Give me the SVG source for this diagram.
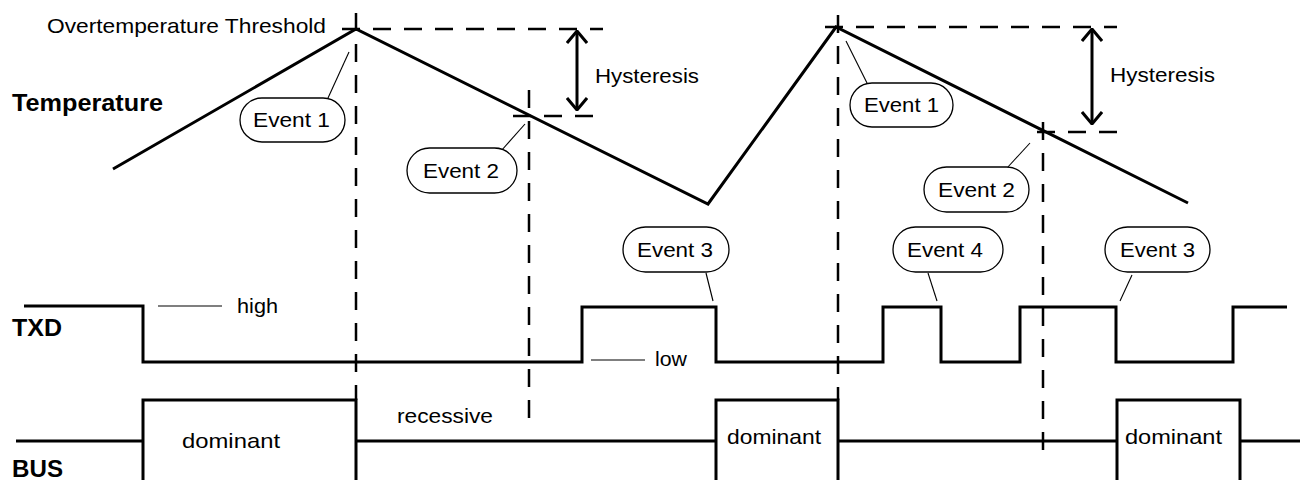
<svg xmlns="http://www.w3.org/2000/svg" width="1302" height="480" viewBox="0 0 1302 480">
<defs>
<style>
.sig{fill:none;stroke:#000;stroke-width:3;stroke-linejoin:miter;stroke-linecap:butt}
.dash{fill:none;stroke:#000;stroke-width:2.5;stroke-dasharray:18 13}
.lead{fill:none;stroke:#000;stroke-width:1.1}
.pill{fill:#fff;stroke:#000;stroke-width:1.3}
.t{font-family:"Liberation Sans",Arial,sans-serif;font-size:21px;fill:#000}
.b{font-family:"Liberation Sans",Arial,sans-serif;font-size:23px;font-weight:bold;fill:#000}
.arr{fill:none;stroke:#000;stroke-width:3}
</style>
<marker id="chev" viewBox="0 0 14 22" refX="13" refY="11" markerWidth="14" markerHeight="22" markerUnits="userSpaceOnUse" orient="auto-start-reverse">
<path d="M1,1 L13,11 L1,21" fill="none" stroke="#000" stroke-width="3"/>
</marker>
</defs>
<rect width="1302" height="480" fill="#fff"/>

<g id="guides">
<line class="dash" x1="342" y1="29" x2="603" y2="29"/>
<line class="dash" x1="513" y1="116" x2="603" y2="116"/>
<line class="dash" x1="825" y1="27" x2="1117" y2="27"/>
<line class="dash" x1="1037" y1="132" x2="1122" y2="132"/>
<line class="dash" x1="356" y1="13" x2="356" y2="400"/>
<line class="dash" x1="529" y1="90" x2="529" y2="426"/>
<line class="dash" x1="838" y1="15" x2="838" y2="400"/>
<line class="dash" x1="1043" y1="122" x2="1043" y2="459"/>
</g>

<g id="temperature-curve">
<polyline class="sig" points="113,169 356,29 708,204 836,27 1188,203"/>
</g>

<g id="txd-signal">
<polyline class="sig" points="24,306 143,306 143,362 582,362 582,307 716,307 716,362 883,362 883,307 941,307 941,362 1020,362 1020,307 1116,307 1116,362 1233,362 1233,307 1287,307"/>
</g>

<g id="bus-signal">
<polyline class="sig" points="16,441 143,441"/>
<polyline class="sig" points="143,482 143,400 356,400 356,482"/>
<polyline class="sig" points="356,441 716,441"/>
<polyline class="sig" points="716,482 716,400 838,400 838,482"/>
<polyline class="sig" points="838,441 1117,441"/>
<polyline class="sig" points="1117,482 1117,400 1240,400 1240,482"/>
<polyline class="sig" points="1240,441 1300,441"/>
</g>

<g id="connectors">
<line class="lead" x1="328" y1="98" x2="349" y2="52"/>
<line class="lead" x1="501" y1="151" x2="525" y2="124"/>
<line class="lead" x1="867" y1="83" x2="846" y2="41"/>
<line class="lead" x1="1007" y1="168" x2="1030" y2="143"/>
<line class="lead" x1="706" y1="273" x2="713" y2="301"/>
<line class="lead" x1="928" y1="273" x2="937" y2="301"/>
<line class="lead" x1="1132" y1="275" x2="1120" y2="301"/>
<line class="lead" x1="158" y1="306" x2="222" y2="306"/>
<line class="lead" x1="591" y1="360" x2="645" y2="360"/>
<line class="arr" x1="577" y1="31" x2="577" y2="110" marker-start="url(#chev)" marker-end="url(#chev)"/>
<line class="arr" x1="1092" y1="29" x2="1092" y2="124" marker-start="url(#chev)" marker-end="url(#chev)"/>
</g>

<g id="labels">
<text class="t" x="47" y="33" textLength="279" lengthAdjust="spacingAndGlyphs">Overtemperature Threshold</text>
<text class="b" x="12" y="111" textLength="151" lengthAdjust="spacingAndGlyphs">Temperature</text>
<text class="b" x="12" y="336" textLength="50" lengthAdjust="spacingAndGlyphs">TXD</text>
<text class="b" x="12" y="477" textLength="51" lengthAdjust="spacingAndGlyphs">BUS</text>
<text class="t" x="595" y="83" textLength="104" lengthAdjust="spacingAndGlyphs">Hysteresis</text>
<text class="t" x="1110" y="82" textLength="105" lengthAdjust="spacingAndGlyphs">Hysteresis</text>
<text class="t" x="237" y="313" textLength="41" lengthAdjust="spacingAndGlyphs">high</text>
<text class="t" x="655" y="366" textLength="32" lengthAdjust="spacingAndGlyphs">low</text>
<text class="t" x="397" y="423" textLength="96" lengthAdjust="spacingAndGlyphs">recessive</text>
<text class="t" x="182" y="448" textLength="98" lengthAdjust="spacingAndGlyphs">dominant</text>
<text class="t" x="727" y="444" textLength="94" lengthAdjust="spacingAndGlyphs">dominant</text>
<text class="t" x="1125" y="444" textLength="97" lengthAdjust="spacingAndGlyphs">dominant</text>
</g>

<g id="event1a">
<rect class="pill" x="240" y="98" width="105" height="44" rx="22"/>
<text class="t" x="253" y="127" textLength="77" lengthAdjust="spacingAndGlyphs">Event 1</text>
</g>
<g id="event2a">
<rect class="pill" x="407" y="148" width="110" height="45" rx="22.5"/>
<text class="t" x="423" y="178" textLength="76" lengthAdjust="spacingAndGlyphs">Event 2</text>
</g>
<g id="event1b">
<rect class="pill" x="850" y="83" width="103" height="44" rx="22"/>
<text class="t" x="864" y="112" textLength="75" lengthAdjust="spacingAndGlyphs">Event 1</text>
</g>
<g id="event2b">
<rect class="pill" x="924" y="167" width="105" height="45" rx="22.5"/>
<text class="t" x="938" y="197" textLength="77" lengthAdjust="spacingAndGlyphs">Event 2</text>
</g>
<g id="event3a">
<rect class="pill" x="623" y="227" width="106" height="45" rx="22.5"/>
<text class="t" x="637" y="257" textLength="76" lengthAdjust="spacingAndGlyphs">Event 3</text>
</g>
<g id="event4">
<rect class="pill" x="893" y="227" width="110" height="45" rx="22.5"/>
<text class="t" x="907" y="257" textLength="76" lengthAdjust="spacingAndGlyphs">Event 4</text>
</g>
<g id="event3b">
<rect class="pill" x="1105" y="227" width="105" height="45" rx="22.5"/>
<text class="t" x="1120" y="257" textLength="75" lengthAdjust="spacingAndGlyphs">Event 3</text>
</g>
</svg>
